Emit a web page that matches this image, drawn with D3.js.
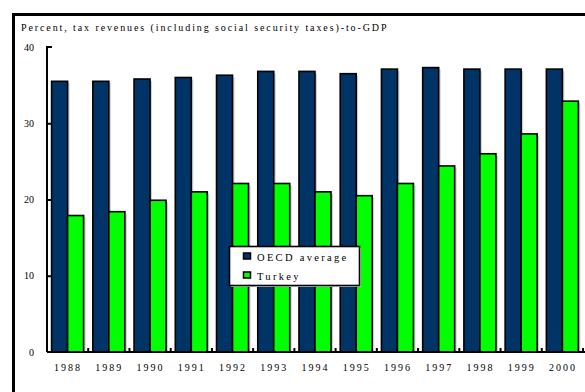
<!DOCTYPE html>
<html>
<head>
<meta charset="utf-8">
<script src="https://cdn.jsdelivr.net/npm/d3@7/dist/d3.min.js"></script>
<style>
  html, body { margin: 0; padding: 0; background: #fff; overflow: hidden; }
  svg { display: block; }
  text { font-family: "Liberation Serif", "Times New Roman", serif; fill: #000; }
</style>
</head>
<body>
<svg id="chart" width="585" height="392"></svg>
<script>
// Tax revenues (incl. social security) as percent of GDP
const years = ["1988","1989","1990","1991","1992","1993","1994","1995","1996","1997","1998","1999","2000"];
const oecd = [35.5, 35.5, 35.8, 36.0, 36.3, 36.8, 36.8, 36.5, 37.1, 37.3, 37.1, 37.1, 37.1];
const turkey = [17.9, 18.4, 19.9, 21.0, 22.1, 22.1, 21.0, 20.5, 22.1, 24.4, 26.0, 28.6, 32.9];
const seriesNames = ["OECD average", "Turkey"];
const seriesColors = ["#003366", "#00ff00"];
const yTicks = [0, 10, 20, 30, 40];
const title = "Percent, tax revenues (including social security taxes)-to-GDP";

const svg = d3.select("#chart");

// outer frame (runs off the right and bottom edges)
svg.append("path")
  .attr("d", "M13.5,400V14.5H600")
  .attr("fill", "none").attr("stroke", "#000").attr("stroke-width", 3);

svg.append("text")
  .attr("x", 21).attr("y", 31)
  .attr("font-size", 10)
  .attr("letter-spacing", 1.9)
  .text(title);

const x0 = d3.scaleBand().domain(years).range([47, 583]);
const x1 = d3.scaleBand().domain(seriesNames).range([4.6, 36.6]);
const y = d3.scaleLinear().domain([0, 40]).range([352, 47]);

const rows = years.map((yr, i) => ({ year: yr, vals: [oecd[i], turkey[i]] }));

const groups = svg.append("g").selectAll("g")
  .data(rows).join("g")
  .attr("transform", d => `translate(${x0(d.year)},0)`);

// soft grey drop shadows
groups.selectAll("rect.shadow")
  .data(d => d.vals.map((v, k) => ({ v, k })))
  .join("rect")
  .attr("class", "shadow")
  .attr("x", d => x1(seriesNames[d.k]) + 2)
  .attr("y", d => y(d.v) + 2)
  .attr("width", x1.bandwidth())
  .attr("height", d => y(0) - y(d.v) - 2)
  .attr("fill", "#d0d0d0");

groups.selectAll("rect.bar")
  .data(d => d.vals.map((v, k) => ({ v, k })))
  .join("rect")
  .attr("class", "bar")
  .attr("x", d => x1(seriesNames[d.k]))
  .attr("y", d => y(d.v))
  .attr("width", x1.bandwidth())
  .attr("height", d => y(0) - y(d.v))
  .attr("fill", d => seriesColors[d.k])
  .attr("stroke", "#000")
  .attr("stroke-width", 1.6);

// y axis: ticks pointing inward
const yAxis = d3.axisRight(y).tickValues(yTicks).tickSize(5).tickFormat("");
const gy = svg.append("g").attr("transform", "translate(47,0)").call(yAxis);
gy.select(".domain").attr("d", "M5,47H0V352").attr("stroke-width", 2);
gy.selectAll(".tick line").attr("stroke-width", 2);
gy.selectAll(".tick").filter(d => d === 0 || d === 40).select("line").remove();

svg.append("g").selectAll("text")
  .data(yTicks).join("text")
  .attr("x", 34).attr("y", d => y(d) + 3.5)
  .attr("text-anchor", "end")
  .attr("font-size", 10)
  .text(d => d);

// x axis: baseline with upward ticks at category boundaries
const xAxis = d3.axisBottom(x0).tickSize(0).tickFormat("");
const gx = svg.append("g").attr("transform", "translate(0,352)").call(xAxis);
gx.select(".domain").attr("d", "M47,0H590").attr("stroke-width", 2.2);
gx.selectAll(".tick").remove();
gx.selectAll("line.bound")
  .data(years.slice(1).concat(["end"]))
  .join("line")
  .attr("class", "bound")
  .attr("x1", (d, i) => x0(years[0]) + (i + 1) * x0.step())
  .attr("x2", (d, i) => x0(years[0]) + (i + 1) * x0.step())
  .attr("y1", 0).attr("y2", -4)
  .attr("stroke", "#000").attr("stroke-width", 2);

svg.append("g").selectAll("text")
  .data(years).join("text")
  .attr("x", d => x0(d) + x0.bandwidth() / 2 + 0.5)
  .attr("y", 371)
  .attr("text-anchor", "middle")
  .attr("font-size", 10)
  .attr("letter-spacing", 2)
  .text(d => d);

// legend
const lg = svg.append("g").attr("transform", "translate(229,246)");
lg.append("rect").attr("x", 2).attr("y", 2).attr("width", 130).attr("height", 39).attr("fill", "#d0d0d0");
lg.append("rect").attr("x", 0.5).attr("y", 0.5).attr("width", 130).attr("height", 39)
  .attr("fill", "#fff").attr("stroke", "#000").attr("stroke-width", 1.6);
seriesNames.forEach((name, k) => {
  lg.append("rect")
    .attr("x", 14.5).attr("y", 7 + k * 19)
    .attr("width", 7).attr("height", 6)
    .attr("fill", seriesColors[k]).attr("stroke", "#000").attr("stroke-width", 1.5);
  lg.append("text")
    .attr("x", 28).attr("y", 15 + k * 19)
    .attr("font-size", 10.5)
    .attr("letter-spacing", 2.3)
    .text(name);
});
</script>
</body>
</html>
